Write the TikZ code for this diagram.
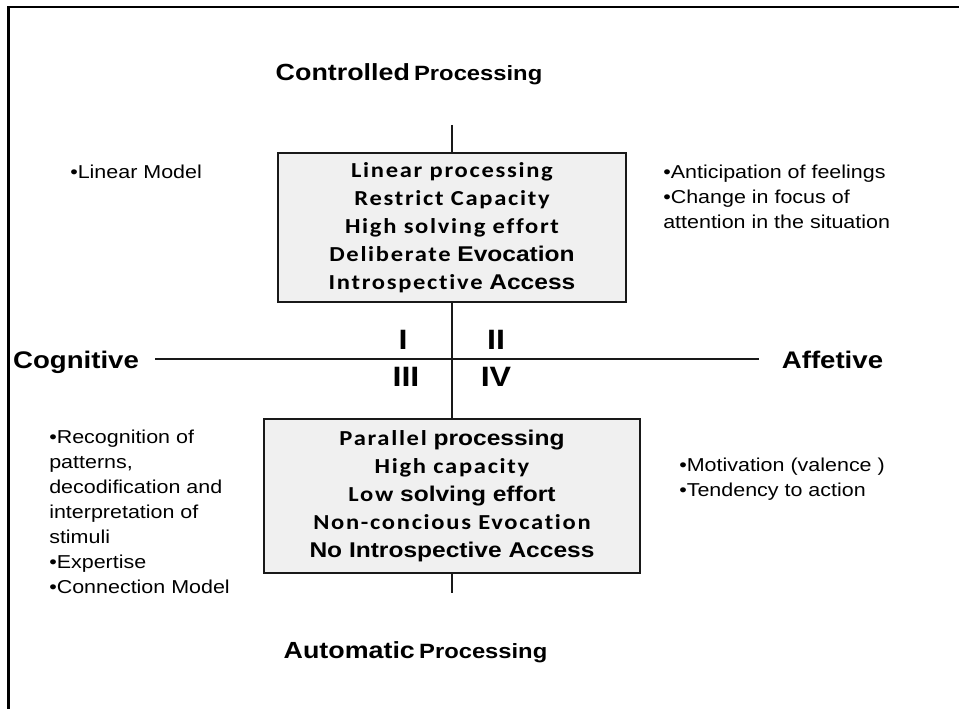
\documentclass[tikz,border=0pt]{standalone}
\usepackage{fontspec}
\setmainfont{Liberation Sans}[FakeStretch=1.15]
\newfontfamily\calfont{Carlito}[FakeStretch=1.15,LetterSpace=8,Ligatures=NoCommon]
\newcommand{\clb}[1]{{\calfont\bfseries #1}}

\begin{document}
\begin{tikzpicture}[x=0.75pt, y=-0.75pt,
    axis/.style={line width=1.5pt, draw=black!90},
    quadbox/.style={draw=black!90, line width=1.5pt, fill=black!6, align=center, inner sep=0pt,
      font=\fontsize{16}{21}\selectfont\bfseries},
    heading/.style={anchor=base, inner sep=0pt, font=\bfseries},
    roman/.style={inner sep=0pt, font=\fontsize{21}{21}\selectfont\bfseries},
    notes/.style={align=left, anchor=north west, inner sep=0pt, font=\fontsize{14}{18.75}\selectfont}]
  \useasboundingbox (0,0) rectangle (959,709);
  % frame: only its left and top edges are on the page
  \draw[line width=1.8pt] (8.5,709) -- (8.5,7) -- (959,7);

  \coordinate (vtop) at (452,125);
  \coordinate (vbot) at (452,593);
  \coordinate (hl) at (155,359);
  \coordinate (hr) at (759,359);

  \node[quadbox, minimum width=261pt, minimum height=111.75pt] (ctrl) at (452,227.5)
    {\clb{Linear processing}\\ \clb{Restrict Capacity}\\ \clb{High solving effort}\\
     \clb{Deliberate} Evocation\\ \clb{Introspective} Access};
  \node[quadbox, minimum width=282pt, minimum height=115.5pt] (auto) at (452,496)
    {\clb{Parallel} processing\\ \clb{High capacity}\\ \clb{Low} solving effort\\
     \clb{Non-concious Evocation}\\ No Introspective Access};

  % the two axes
  \draw[axis] (vtop) -- (ctrl.north);
  \draw[axis] (ctrl.south) -- (auto.north);
  \draw[axis] (auto.south) -- (vbot);
  \draw[axis] (hl) -- (hr);

  \node[heading] (controlled) at (409,80.5)
    {{\fontsize{17.5}{17.5}\selectfont Controlled} {\fontsize{15.5}{15.5}\selectfont Processing}};
  \node[heading] (automatic) at (415.5,658)
    {{\fontsize{17.5}{17.5}\selectfont Automatic} {\fontsize{15.5}{15.5}\selectfont Processing}};
  \node[heading, font=\fontsize{18}{18}\selectfont\bfseries] (cognitive) at (76,368.5) {Cognitive};
  \node[heading, font=\fontsize{18}{18}\selectfont\bfseries] (affetive) at (832.5,368.5) {Affetive};

  % quadrant numbers
  \node[roman] (q1) at (403,340) {I};
  \node[roman] (q2) at (496,340) {II};
  \node[roman] (q3) at (406,377) {III};
  \node[roman] (q4) at (496,377) {IV};

  \node[notes] (linear) at (70,165) {•Linear Model};
  \node[notes] (feelings) at (663,165)
    {•Anticipation of feelings\\•Change in focus of\\attention in the situation};
  \node[notes] (patterns) at (49,430)
    {•Recognition of\\patterns,\\decodification and\\interpretation of\\stimuli\\•Expertise\\•Connection Model};
  \node[notes] (motivation) at (679,458)
    {•Motivation (valence )\\•Tendency to action};
\end{tikzpicture}
\end{document}
